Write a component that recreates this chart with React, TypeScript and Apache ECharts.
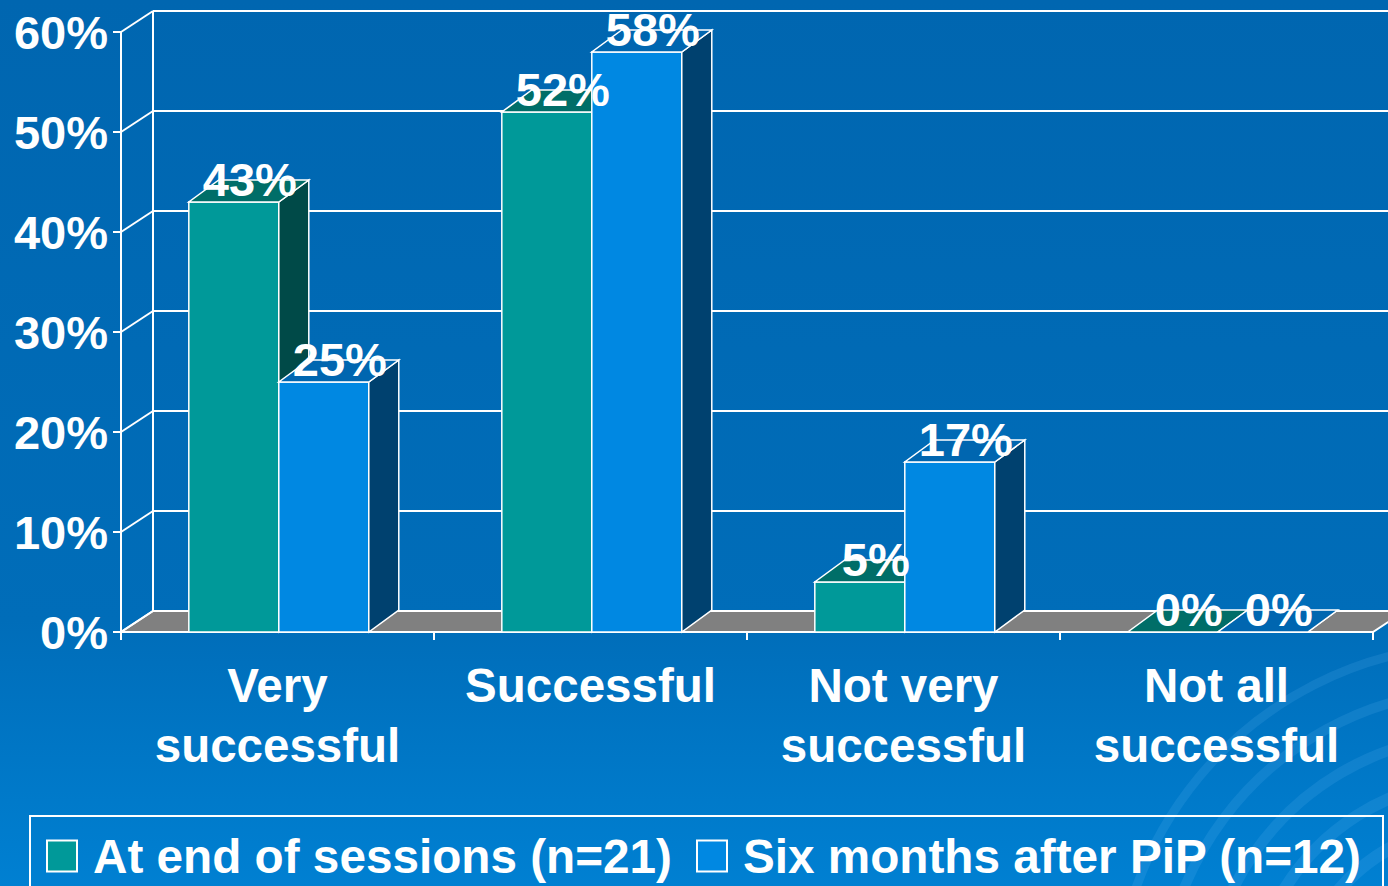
import React, { useEffect, useRef } from "react";
import * as echarts from "echarts";

const categories = ["Very\nsuccessful", "Successful", "Not very\nsuccessful", "Not all\nsuccessful"];
const endOfSessions = [43, 52, 5, 0];
const sixMonths = [25, 58, 17, 0];
const seriesNames = ["At end of sessions (n=21)", "Six months after PiP (n=12)"];
const yMin = 0;
const yMax = 60;
const yInterval = 10;

const FONT = "'Liberation Sans', Arial, Helvetica, sans-serif";
const DX = 30;
const DY = -22;
const WDX = 32;
const WDY = -21;

const tealColors = { front: "#009999", top: "#006E68", side: "#004A48" };
const blueColors = { front: "#0088E2", top: "#0066B0", side: "#00416F" };

function makeBarRender(idx: number, c: { front: string; top: string; side: string }) {
  return (params: any, api: any) => {
    const cat = api.value(0);
    const v = api.value(1);
    const base = api.coord([cat, 0]);
    const top = api.coord([cat, v]);
    const band = api.size([1, 0])[0];
    const w = band * 0.2875;
    const x0 = base[0] + 1.3 - (idx === 0 ? w : 0);
    const x1 = x0 + w;
    const yb = base[1];
    const yt = top[1];
    const stroke = { stroke: "#ffffff", lineWidth: 1.5 };
    return {
      type: "group",
      children: [
        {
          type: "rect",
          shape: { x: x0, y: yt, width: w, height: yb - yt },
          style: { fill: c.front, ...stroke },
        },
        {
          type: "polygon",
          shape: { points: [[x1, yb], [x1, yt], [x1 + DX, yt + DY], [x1 + DX, yb + DY]] },
          style: { fill: c.side, ...stroke },
        },
        {
          type: "polygon",
          shape: { points: [[x0, yt], [x1, yt], [x1 + DX, yt + DY], [x0 + DX, yt + DY]] },
          style: { fill: c.top, ...stroke },
        },
        {
          type: "text",
          x: x0 + w / 2 + DX / 2 + 1,
          y: yt + DY / 2 - 12,
          z2: 100,
          style: {
            text: v + "%",
            fill: "#ffffff",
            fontSize: 47,
            fontWeight: "bold",
            fontFamily: FONT,
            align: "center",
            verticalAlign: "middle",
          },
        },
      ],
    };
  };
}

function wallRender(params: any, api: any) {
  const cs = params.coordSys;
  const xl = cs.x;
  const xr = cs.x + cs.width;
  const children: any[] = [];
  const y0 = api.coord([0, 0])[1];
  children.push({
    type: "polygon",
    shape: { points: [[xl, y0], [xr, y0], [xr + WDX, y0 + WDY], [xl + WDX, y0 + WDY]] },
    style: { fill: "#808080", stroke: "#ffffff", lineWidth: 2 },
  });
  for (let v = yMin; v <= yMax; v += yInterval) {
    const y = api.coord([0, v])[1];
    children.push({
      type: "line",
      shape: { x1: xl + WDX, y1: y + WDY, x2: xr + WDX, y2: y + WDY },
      style: { stroke: "#ffffff", lineWidth: 2 },
    });
    children.push({
      type: "line",
      shape: { x1: xl, y1: y, x2: xl + WDX, y2: y + WDY },
      style: { stroke: "#ffffff", lineWidth: 2 },
    });
  }
  const yTop = api.coord([0, yMax])[1];
  children.push({
    type: "line",
    shape: { x1: xl + WDX, y1: y0 + WDY, x2: xl + WDX, y2: yTop + WDY },
    style: { stroke: "#ffffff", lineWidth: 2 },
  });
  return { type: "group", children };
}

export default function App() {
  const ref = useRef<HTMLDivElement>(null);
  useEffect(() => {
    if (!ref.current) return;
    const chart = echarts.init(ref.current, null, { renderer: "svg" });
    const swirls: any[] = [];
    const radii = [140, 185, 230, 275, 320, 365];
    radii.forEach((r, i) => {
      swirls.push({
        type: "arc",
        z: -10,
        silent: true,
        shape: { cx: 1480, cy: 1010, r, startAngle: Math.PI * (1.0 + i * 0.02), endAngle: Math.PI * 1.6 },
        style: { stroke: "rgba(120,200,255,0.13)", lineWidth: 14 - i, fill: "none" },
      });
    });
    const option: any = {
      animation: false,
      backgroundColor: new echarts.graphic.LinearGradient(0, 0, 0, 1, [
        { offset: 0, color: "#0066B0" },
        { offset: 0.7, color: "#006DB9" },
        { offset: 1, color: "#0080D2" },
      ]),
      graphic: [
        ...swirls,
        {
          type: "rect",
          z: 5,
          silent: true,
          shape: { x: 30, y: 816, width: 1353, height: 100 },
          style: { fill: "none", stroke: "#ffffff", lineWidth: 2 },
        },
      ],
      legend: {
        left: 46,
        top: 832,
        padding: 0,
        icon: "rect",
        itemWidth: 30,
        itemHeight: 31,
        itemGap: 24,
        selectedMode: false,
        textStyle: {
          color: "#ffffff",
          fontSize: 47.7,
          fontWeight: "bold",
          fontFamily: FONT,
          padding: [0, 0, 0, 11],
        },
        data: [
          { name: seriesNames[0], itemStyle: { color: tealColors.front, borderColor: "#ffffff", borderWidth: 2 } },
          { name: seriesNames[1], itemStyle: { color: blueColors.front, borderColor: "#ffffff", borderWidth: 2 } },
        ],
      },
      grid: { left: 121, right: 15, top: 32, bottom: 254, containLabel: false },
      xAxis: {
        type: "category",
        data: categories,
        boundaryGap: true,
        axisLine: { show: true, lineStyle: { color: "#ffffff", width: 2 } },
        axisTick: { show: true, length: 8, lineStyle: { color: "#ffffff", width: 2 } },
        splitLine: { show: false },
        axisLabel: {
          color: "#ffffff",
          fontSize: 47.5,
          fontWeight: "bold",
          fontFamily: FONT,
          lineHeight: 60,
          margin: 23,
          interval: 0,
        },
      },
      yAxis: {
        type: "value",
        min: yMin,
        max: yMax,
        interval: yInterval,
        axisLine: { show: true, lineStyle: { color: "#ffffff", width: 2 } },
        axisTick: { show: true, length: 8, lineStyle: { color: "#ffffff", width: 2 } },
        splitLine: { show: false },
        axisLabel: {
          color: "#ffffff",
          fontSize: 47,
          fontWeight: "bold",
          fontFamily: FONT,
          margin: 13,
          formatter: "{value}%",
        },
      },
      series: [
        {
          type: "custom",
          name: "wall",
          z: 1,
          silent: true,
          renderItem: wallRender,
          data: [[0, 0]],
          encode: { x: 0, y: 1 },
        },
        {
          type: "custom",
          name: seriesNames[0],
          z: 2,
          silent: true,
          itemStyle: { color: tealColors.front },
          renderItem: makeBarRender(0, tealColors),
          data: endOfSessions.map((v, i) => [i, v]),
          encode: { x: 0, y: 1 },
        },
        {
          type: "custom",
          name: seriesNames[1],
          z: 2,
          silent: true,
          itemStyle: { color: blueColors.front },
          renderItem: makeBarRender(1, blueColors),
          data: sixMonths.map((v, i) => [i, v]),
          encode: { x: 0, y: 1 },
        },
      ],
    };
    chart.setOption(option);
    return () => chart.dispose();
  }, []);
  return (
    <div style={{ position: "fixed", left: 0, top: 0, width: 1388, height: 886, overflow: "hidden" }}>
      <div ref={ref} style={{ width: 1388, height: 886 }} />
    </div>
  );
}
